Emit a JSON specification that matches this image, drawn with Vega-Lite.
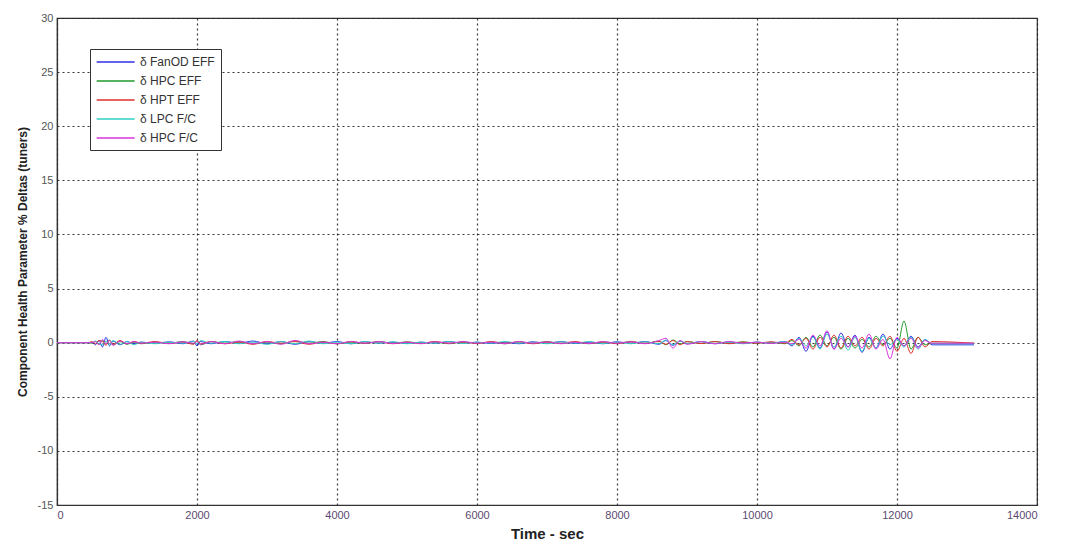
{
  "$schema": "https://vega.github.io/schema/vega-lite/v6.json",
  "width": 980,
  "height": 487,
  "autosize": {"type": "none"},
  "padding": {"left": 57, "top": 18, "right": 43, "bottom": 49},
  "background": "white",
  "config": {
    "font": "Liberation Sans",
    "view": {"stroke": "#333333", "strokeWidth": 1.2}
  },
  "data": {
    "values": [
      {"t":0,"a":0,"b":0,"c":0,"d":0,"e":0},
      {"t":450,"a":0,"b":0,"c":0,"d":0,"e":0},
      {"t":500,"a":0.05,"b":-0.05,"c":0.1,"d":0,"e":0},
      {"t":550,"a":-0.2,"b":0.1,"c":-0.1,"d":0.15,"e":0.1},
      {"t":600,"a":0.2,"b":-0.15,"c":0.2,"d":-0.1,"e":-0.2},
      {"t":650,"a":-0.4,"b":0.2,"c":0.1,"d":-0.2,"e":0.3},
      {"t":700,"a":0.5,"b":-0.1,"c":-0.25,"d":0.15,"e":-0.1},
      {"t":750,"a":-0.3,"b":0.25,"c":0.2,"d":-0.2,"e":0.2},
      {"t":800,"a":0.15,"b":-0.2,"c":-0.15,"d":0.2,"e":-0.25},
      {"t":900,"a":-0.2,"b":0.1,"c":0.2,"d":-0.15,"e":0.15},
      {"t":1000,"a":0.1,"b":-0.15,"c":-0.1,"d":0.1,"e":-0.1},
      {"t":1100,"a":-0.1,"b":0.05,"c":0.1,"d":-0.2,"e":0.1},
      {"t":1200,"a":0.05,"b":-0.1,"c":-0.05,"d":0.05,"e":-0.05},
      {"t":1400,"a":-0.05,"b":0.05,"c":0.1,"d":-0.1,"e":0.05},
      {"t":1600,"a":0.08,"b":-0.05,"c":-0.08,"d":0.05,"e":-0.1},
      {"t":1800,"a":-0.1,"b":0.1,"c":0.05,"d":-0.05,"e":0.08},
      {"t":1950,"a":0.15,"b":-0.1,"c":-0.15,"d":0.1,"e":-0.05},
      {"t":2000,"a":-0.3,"b":0.15,"c":0.2,"d":-0.1,"e":0.1},
      {"t":2050,"a":0.1,"b":-0.2,"c":-0.1,"d":0.2,"e":-0.15},
      {"t":2200,"a":-0.1,"b":0.1,"c":0.1,"d":-0.05,"e":0.1},
      {"t":2400,"a":0.1,"b":-0.05,"c":-0.1,"d":0.1,"e":-0.1},
      {"t":2600,"a":-0.05,"b":0.1,"c":0.05,"d":-0.1,"e":0.15},
      {"t":2800,"a":0.15,"b":-0.1,"c":-0.15,"d":0.05,"e":-0.1},
      {"t":3000,"a":-0.1,"b":0.05,"c":0.1,"d":-0.15,"e":0.1},
      {"t":3200,"a":0.1,"b":-0.1,"c":-0.05,"d":0.1,"e":-0.15},
      {"t":3400,"a":-0.15,"b":0.15,"c":0.1,"d":-0.1,"e":0.2},
      {"t":3600,"a":0.1,"b":-0.05,"c":-0.15,"d":0.15,"e":-0.1},
      {"t":3800,"a":-0.05,"b":0.1,"c":0.05,"d":-0.1,"e":0.05},
      {"t":4000,"a":0.1,"b":-0.1,"c":-0.1,"d":0.05,"e":-0.1},
      {"t":4200,"a":-0.1,"b":0.05,"c":0.1,"d":-0.1,"e":0.1},
      {"t":4400,"a":0.08,"b":-0.08,"c":-0.05,"d":0.1,"e":-0.05},
      {"t":4600,"a":-0.05,"b":0.1,"c":0.08,"d":-0.05,"e":0.1},
      {"t":4800,"a":0.05,"b":-0.05,"c":-0.1,"d":0.08,"e":-0.08},
      {"t":5000,"a":-0.08,"b":0.08,"c":0.05,"d":-0.1,"e":0.05},
      {"t":5200,"a":0.05,"b":-0.05,"c":-0.05,"d":0.05,"e":-0.1},
      {"t":5400,"a":-0.05,"b":0.05,"c":0.1,"d":-0.05,"e":0.08},
      {"t":5600,"a":0.1,"b":-0.1,"c":-0.05,"d":0.1,"e":-0.05},
      {"t":5800,"a":-0.05,"b":0.08,"c":0.05,"d":-0.08,"e":0.1},
      {"t":6000,"a":0.05,"b":-0.05,"c":-0.08,"d":0.05,"e":-0.05},
      {"t":6200,"a":-0.08,"b":0.05,"c":0.1,"d":-0.05,"e":0.05},
      {"t":6400,"a":0.05,"b":-0.1,"c":-0.05,"d":0.1,"e":-0.1},
      {"t":6600,"a":-0.1,"b":0.08,"c":0.08,"d":-0.05,"e":0.1},
      {"t":6800,"a":0.08,"b":-0.05,"c":-0.1,"d":0.05,"e":-0.05},
      {"t":7000,"a":-0.05,"b":0.1,"c":0.05,"d":-0.1,"e":0.08},
      {"t":7200,"a":0.1,"b":-0.08,"c":-0.05,"d":0.08,"e":-0.1},
      {"t":7400,"a":-0.08,"b":0.05,"c":0.1,"d":-0.05,"e":0.05},
      {"t":7600,"a":0.05,"b":-0.1,"c":-0.08,"d":0.1,"e":-0.08},
      {"t":7800,"a":-0.1,"b":0.08,"c":0.05,"d":-0.08,"e":0.1},
      {"t":8000,"a":0.08,"b":-0.05,"c":-0.1,"d":0.05,"e":-0.05},
      {"t":8200,"a":-0.05,"b":0.1,"c":0.08,"d":-0.1,"e":0.08},
      {"t":8400,"a":0.1,"b":-0.08,"c":-0.05,"d":0.08,"e":-0.1},
      {"t":8600,"a":-0.15,"b":0.15,"c":0.1,"d":-0.1,"e":0.2},
      {"t":8700,"a":0.2,"b":-0.2,"c":-0.15,"d":0.25,"e":0.4},
      {"t":8800,"a":-0.25,"b":0.25,"c":0.2,"d":-0.2,"e":-0.5},
      {"t":8900,"a":0.15,"b":-0.1,"c":-0.2,"d":0.15,"e":0.2},
      {"t":9000,"a":-0.1,"b":0.1,"c":0.1,"d":-0.1,"e":-0.15},
      {"t":9200,"a":0.1,"b":-0.08,"c":-0.08,"d":0.1,"e":0.1},
      {"t":9400,"a":-0.1,"b":0.1,"c":0.1,"d":-0.08,"e":-0.1},
      {"t":9600,"a":0.08,"b":-0.05,"c":-0.1,"d":0.05,"e":0.1},
      {"t":9800,"a":-0.05,"b":0.08,"c":0.05,"d":-0.1,"e":-0.05},
      {"t":10000,"a":0.05,"b":-0.05,"c":-0.05,"d":0.05,"e":0.05},
      {"t":10200,"a":-0.05,"b":0.05,"c":0.08,"d":-0.05,"e":-0.08},
      {"t":10400,"a":0.1,"b":-0.1,"c":-0.05,"d":0.1,"e":0.05},
      {"t":10500,"a":-0.3,"b":0.2,"c":0.3,"d":-0.2,"e":-0.1},
      {"t":10600,"a":0.5,"b":-0.3,"c":-0.2,"d":0.4,"e":0.3},
      {"t":10700,"a":-0.8,"b":0.5,"c":0.4,"d":-0.3,"e":-0.5},
      {"t":10800,"a":0.6,"b":-0.4,"c":-0.6,"d":0.5,"e":0.7},
      {"t":10900,"a":-0.5,"b":0.7,"c":0.5,"d":-0.6,"e":-0.3},
      {"t":11000,"a":1.0,"b":-0.3,"c":-0.4,"d":0.8,"e":1.1},
      {"t":11100,"a":-0.6,"b":0.5,"c":0.7,"d":-0.4,"e":-0.6},
      {"t":11200,"a":0.9,"b":-0.6,"c":-0.5,"d":0.6,"e":0.4},
      {"t":11300,"a":-0.4,"b":0.4,"c":0.6,"d":-0.7,"e":-0.4},
      {"t":11400,"a":0.7,"b":-0.5,"c":-0.3,"d":0.5,"e":0.6},
      {"t":11500,"a":-0.9,"b":0.3,"c":0.5,"d":-0.8,"e":-0.5},
      {"t":11600,"a":0.5,"b":-0.4,"c":-0.6,"d":0.4,"e":0.8},
      {"t":11700,"a":-0.5,"b":0.6,"c":0.4,"d":-0.5,"e":-0.6},
      {"t":11800,"a":0.8,"b":-0.2,"c":-0.3,"d":0.6,"e":0.3},
      {"t":11900,"a":-0.6,"b":0.4,"c":0.6,"d":-0.2,"e":-1.5},
      {"t":12000,"a":0.4,"b":-0.5,"c":-0.8,"d":0.3,"e":0.5},
      {"t":12100,"a":-0.3,"b":2.0,"c":0.4,"d":-0.4,"e":-0.3},
      {"t":12200,"a":0.6,"b":-0.6,"c":-1.0,"d":0.5,"e":0.4},
      {"t":12300,"a":-0.4,"b":0.5,"c":0.5,"d":-0.6,"e":-0.5},
      {"t":12400,"a":0.3,"b":-0.2,"c":-0.4,"d":0.3,"e":0.2},
      {"t":12500,"a":-0.2,"b":-0.05,"c":0.1,"d":-0.1,"e":-0.05},
      {"t":13100,"a":-0.2,"b":-0.05,"c":-0.05,"d":-0.1,"e":-0.05}
    ]
  },
  "transform": [
    {"fold": ["a", "b", "c", "d", "e"], "as": ["key", "v"]},
    {"lookup": "key", "from": {"data": {"values": [
      {"key": "a", "name": "δ FanOD EFF"},
      {"key": "b", "name": "δ HPC EFF"},
      {"key": "c", "name": "δ HPT EFF"},
      {"key": "d", "name": "δ LPC F/C"},
      {"key": "e", "name": "δ HPC F/C"}
    ]}, "key": "key", "fields": ["name"]}}
  ],
  "mark": {"type": "line", "strokeWidth": 1, "clip": true, "interpolate": "monotone"},
  "encoding": {
    "x": {
      "field": "t", "type": "quantitative",
      "scale": {"domain": [0, 14000], "nice": false},
      "axis": {
        "values": [0, 2000, 4000, 6000, 8000, 10000, 12000, 14000],
        "labelExpr": "'' + datum.value",
        "title": "Time - sec",
        "titleFontSize": 15, "titleFontWeight": "bold", "titleColor": "#222222",
        "titlePadding": 6,
        "labelColor": "#5a4a72", "labelFontSize": 11, "labelPadding": 4,
        "domainColor": "#333333", "domainWidth": 1.2,
        "tickColor": "#333333", "tickSize": 0,
        "grid": true, "gridColor": "#222222", "gridDash": [2, 3], "gridWidth": 1.2, "gridOpacity": 0.9
      }
    },
    "y": {
      "field": "v", "type": "quantitative",
      "scale": {"domain": [-15, 30], "nice": false},
      "axis": {
        "values": [-15, -10, -5, 0, 5, 10, 15, 20, 25, 30],
        "labelExpr": "'' + datum.value",
        "title": "Component Health Parameter % Deltas (tuners)",
        "titleFontSize": 12, "titleFontWeight": "bold", "titleColor": "#222222",
        "titlePadding": 8,
        "labelColor": "#555555", "labelFontSize": 11, "labelPadding": 4,
        "domainColor": "#333333", "domainWidth": 1.2,
        "tickColor": "#333333", "tickSize": 0,
        "grid": true, "gridColor": "#222222", "gridDash": [2, 3], "gridWidth": 1.2, "gridOpacity": 0.9
      }
    },
    "color": {
      "field": "name", "type": "nominal",
      "scale": {
        "domain": ["δ FanOD EFF", "δ HPC EFF", "δ HPT EFF", "δ LPC F/C", "δ HPC F/C"],
        "range": ["#2f2fe8", "#1f9a2a", "#e0302f", "#30cfc0", "#dd33dd"]
      },
      "legend": {
        "title": null,
        "orient": "none",
        "legendX": 33,
        "legendY": 31,
        "symbolType": "M-1,0H5",
        "symbolSize": 160,
        "symbolStrokeWidth": 1.3,
        "labelFontSize": 12,
        "labelColor": "#333333",
        "labelOffset": 30,
        "rowPadding": 6,
        "padding": 6,
        "strokeColor": "#333333",
        "fillColor": "white"
      }
    }
  }
}
